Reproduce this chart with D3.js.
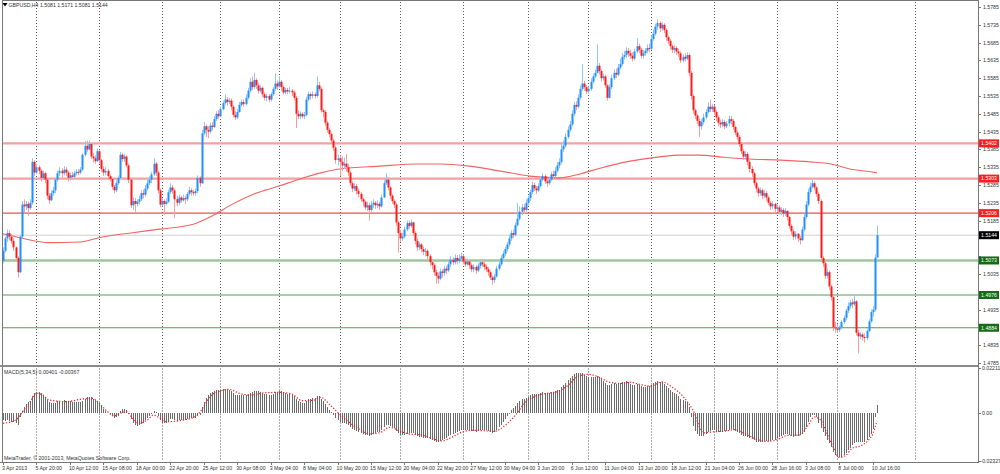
<!DOCTYPE html>
<html><head><meta charset="utf-8">
<script src="https://cdn.jsdelivr.net/npm/d3@7"></script>
<style>html,body{margin:0;padding:0;background:#fff;}svg{display:block;}</style>
</head><body>
<svg id="c" width="1000" height="474"></svg>
<script>
const title = "GBPUSD,H4  1.5081 1.5171 1.5081 1.5144";
const macdTitle = "MACD(5,34,5) 0.00401 -0.00367";
const copyright = "MetaTrader, \u00A9 2001-2013, MetaQuotes Software Corp.";
const firstOpen = 1.5072;
const closes = [
1.5100,1.5135,1.5150,1.5140,1.5128,1.5110,1.5080,1.5040,1.5140,1.5230,
1.5225,1.5232,1.5220,1.5235,1.5350,1.5320,1.5335,1.5325,1.5305,1.5318,
1.5300,1.5255,1.5242,1.5262,1.5270,1.5300,1.5318,1.5325,1.5318,1.5328,
1.5320,1.5305,1.5312,1.5308,1.5318,1.5322,1.5320,1.5328,1.5370,1.5395,
1.5385,1.5400,1.5365,1.5360,1.5352,1.5380,1.5355,1.5330,1.5320,1.5325,
1.5310,1.5302,1.5280,1.5270,1.5290,1.5305,1.5370,1.5358,1.5365,1.5340,
1.5300,1.5228,1.5240,1.5232,1.5238,1.5245,1.5262,1.5258,1.5275,1.5290,
1.5300,1.5315,1.5345,1.5320,1.5270,1.5230,1.5240,1.5232,1.5238,1.5265,
1.5278,1.5270,1.5245,1.5235,1.5250,1.5242,1.5248,1.5245,1.5260,1.5270,
1.5265,1.5262,1.5268,1.5305,1.5290,1.5430,1.5450,1.5440,1.5435,1.5452,
1.5448,1.5470,1.5485,1.5478,1.5498,1.5515,1.5525,1.5518,1.5522,1.5505,
1.5482,1.5475,1.5490,1.5510,1.5518,1.5512,1.5530,1.5550,1.5575,1.5560,
1.5580,1.5565,1.5550,1.5558,1.5540,1.5530,1.5535,1.5525,1.5540,1.5555,
1.5570,1.5562,1.5575,1.5560,1.5545,1.5552,1.5548,1.5550,1.5545,1.5530,
1.5485,1.5478,1.5485,1.5478,1.5482,1.5525,1.5540,1.5535,1.5540,1.5535,
1.5565,1.5555,1.5495,1.5490,1.5460,1.5440,1.5428,1.5410,1.5390,1.5355,
1.5360,1.5350,1.5340,1.5345,1.5335,1.5320,1.5290,1.5275,1.5282,1.5268,
1.5260,1.5245,1.5238,1.5222,1.5228,1.5215,1.5230,1.5235,1.5228,1.5232,
1.5225,1.5250,1.5290,1.5300,1.5278,1.5255,1.5240,1.5230,1.5180,1.5150,
1.5135,1.5140,1.5160,1.5178,1.5170,1.5180,1.5150,1.5128,1.5110,1.5118,
1.5105,1.5098,1.5100,1.5085,1.5068,1.5060,1.5040,1.5030,1.5022,1.5042,
1.5038,1.5050,1.5045,1.5062,1.5075,1.5068,1.5080,1.5072,1.5078,1.5085,
1.5070,1.5062,1.5070,1.5060,1.5048,1.5055,1.5045,1.5058,1.5068,1.5062,
1.5055,1.5048,1.5040,1.5025,1.5018,1.5028,1.5050,1.5062,1.5080,1.5092,
1.5105,1.5118,1.5135,1.5150,1.5145,1.5172,1.5190,1.5210,1.5222,1.5215,
1.5235,1.5248,1.5265,1.5285,1.5275,1.5270,1.5282,1.5300,1.5310,1.5295,
1.5290,1.5300,1.5315,1.5310,1.5325,1.5340,1.5350,1.5385,1.5395,1.5420,
1.5440,1.5455,1.5485,1.5510,1.5505,1.5530,1.5555,1.5570,1.5560,1.5548,
1.5555,1.5575,1.5590,1.5600,1.5620,1.5605,1.5585,1.5590,1.5565,1.5530,
1.5560,1.5585,1.5600,1.5595,1.5615,1.5625,1.5645,1.5650,1.5662,1.5655,
1.5648,1.5640,1.5660,1.5675,1.5665,1.5648,1.5655,1.5662,1.5670,1.5668,
1.5695,1.5710,1.5730,1.5740,1.5725,1.5735,1.5720,1.5700,1.5690,1.5675,
1.5665,1.5670,1.5660,1.5655,1.5635,1.5645,1.5640,1.5650,1.5600,1.5535,
1.5495,1.5480,1.5465,1.5450,1.5462,1.5475,1.5490,1.5505,1.5498,1.5505,
1.5490,1.5475,1.5460,1.5455,1.5462,1.5450,1.5458,1.5470,1.5465,1.5448,
1.5432,1.5420,1.5400,1.5380,1.5365,1.5372,1.5350,1.5330,1.5318,1.5290,
1.5275,1.5262,1.5270,1.5255,1.5262,1.5250,1.5235,1.5225,1.5232,1.5218,
1.5222,1.5210,1.5215,1.5205,1.5212,1.5195,1.5170,1.5155,1.5140,1.5148,
1.5135,1.5130,1.5160,1.5195,1.5230,1.5265,1.5280,1.5290,1.5278,1.5260,
1.5240,1.5080,1.5065,1.5030,1.5040,1.5000,1.4970,1.4885,1.4882,1.4878,
1.4885,1.4900,1.4912,1.4932,1.4945,1.4955,1.4950,1.4958,1.4870,1.4860,
1.4865,1.4858,1.4855,1.4875,1.4902,1.4928,1.4935,1.5081,1.5144];
const highs = [
1.5110,1.5140,1.5160,1.5158,1.5148,1.5135,1.5112,1.5085,1.5145,1.5240,
1.5245,1.5240,1.5238,1.5245,1.5360,1.5355,1.5345,1.5340,1.5330,1.5325,
1.5322,1.5305,1.5262,1.5270,1.5280,1.5305,1.5325,1.5335,1.5332,1.5338,
1.5335,1.5325,1.5320,1.5322,1.5325,1.5330,1.5330,1.5335,1.5375,1.5408,
1.5410,1.5410,1.5400,1.5375,1.5368,1.5388,1.5382,1.5358,1.5338,1.5335,
1.5330,1.5315,1.5305,1.5285,1.5298,1.5312,1.5378,1.5375,1.5372,1.5368,
1.5345,1.5305,1.5250,1.5248,1.5245,1.5255,1.5270,1.5272,1.5285,1.5300,
1.5310,1.5322,1.5360,1.5350,1.5325,1.5275,1.5248,1.5245,1.5248,1.5272,
1.5290,1.5285,1.5275,1.5255,1.5258,1.5255,1.5258,1.5255,1.5265,1.5280,
1.5276,1.5272,1.5275,1.5312,1.5310,1.5440,1.5462,1.5455,1.5450,1.5460,
1.5462,1.5478,1.5492,1.5495,1.5505,1.5522,1.5540,1.5532,1.5530,1.5528,
1.5510,1.5492,1.5498,1.5518,1.5525,1.5525,1.5540,1.5558,1.5585,1.5590,
1.5600,1.5585,1.5572,1.5565,1.5562,1.5545,1.5542,1.5540,1.5545,1.5560,
1.5598,1.5578,1.5590,1.5580,1.5565,1.5558,1.5558,1.5560,1.5555,1.5550,
1.5535,1.5495,1.5492,1.5490,1.5490,1.5532,1.5548,1.5545,1.5548,1.5545,
1.5590,1.5575,1.5560,1.5500,1.5495,1.5465,1.5445,1.5432,1.5415,1.5395,
1.5370,1.5368,1.5365,1.5362,1.5372,1.5345,1.5325,1.5295,1.5290,1.5288,
1.5275,1.5265,1.5250,1.5242,1.5238,1.5235,1.5240,1.5245,1.5240,1.5242,
1.5238,1.5258,1.5298,1.5318,1.5305,1.5282,1.5260,1.5245,1.5235,1.5185,
1.5158,1.5150,1.5168,1.5185,1.5185,1.5188,1.5182,1.5155,1.5135,1.5125,
1.5122,1.5112,1.5108,1.5105,1.5090,1.5075,1.5065,1.5048,1.5040,1.5050,
1.5048,1.5058,1.5058,1.5070,1.5085,1.5082,1.5090,1.5088,1.5090,1.5095,
1.5090,1.5078,1.5078,1.5075,1.5065,1.5062,1.5060,1.5065,1.5075,1.5078,
1.5068,1.5062,1.5055,1.5045,1.5030,1.5035,1.5058,1.5070,1.5088,1.5100,
1.5112,1.5125,1.5145,1.5158,1.5160,1.5180,1.5235,1.5225,1.5232,1.5232,
1.5245,1.5255,1.5272,1.5295,1.5292,1.5282,1.5290,1.5310,1.5318,1.5315,
1.5302,1.5308,1.5322,1.5325,1.5335,1.5350,1.5360,1.5400,1.5410,1.5430,
1.5450,1.5465,1.5495,1.5518,1.5520,1.5540,1.5565,1.5625,1.5578,1.5565,
1.5562,1.5585,1.5598,1.5610,1.5680,1.5628,1.5610,1.5598,1.5595,1.5568,
1.5568,1.5595,1.5610,1.5612,1.5625,1.5640,1.5655,1.5662,1.5672,1.5670,
1.5665,1.5658,1.5668,1.5698,1.5682,1.5670,1.5665,1.5670,1.5680,1.5682,
1.5705,1.5722,1.5738,1.5750,1.5745,1.5742,1.5740,1.5725,1.5705,1.5695,
1.5680,1.5678,1.5675,1.5668,1.5660,1.5652,1.5655,1.5658,1.5655,1.5605,
1.5540,1.5500,1.5485,1.5472,1.5470,1.5485,1.5498,1.5518,1.5525,1.5512,
1.5510,1.5495,1.5480,1.5468,1.5470,1.5468,1.5465,1.5480,1.5478,1.5470,
1.5452,1.5438,1.5425,1.5405,1.5385,1.5380,1.5378,1.5355,1.5338,1.5322,
1.5295,1.5280,1.5278,1.5275,1.5270,1.5268,1.5255,1.5240,1.5240,1.5235,
1.5230,1.5228,1.5222,1.5220,1.5220,1.5215,1.5198,1.5175,1.5160,1.5155,
1.5150,1.5142,1.5168,1.5205,1.5240,1.5275,1.5292,1.5302,1.5295,1.5282,
1.5265,1.5245,1.5085,1.5070,1.5050,1.5045,1.5005,1.4975,1.4900,1.4895,
1.4890,1.4905,1.4918,1.4938,1.4955,1.4962,1.4965,1.4975,1.4962,1.4878,
1.4872,1.4870,1.4868,1.4880,1.4908,1.4935,1.4945,1.5090,1.5171];
const lows = [
1.5065,1.5095,1.5125,1.5130,1.5120,1.5100,1.5070,1.5025,1.5038,1.5135,
1.5205,1.5215,1.5198,1.5215,1.5230,1.5310,1.5315,1.5315,1.5295,1.5300,
1.5290,1.5245,1.5232,1.5240,1.5255,1.5262,1.5295,1.5310,1.5305,1.5312,
1.5310,1.5295,1.5298,1.5300,1.5305,1.5312,1.5312,1.5315,1.5325,1.5365,
1.5378,1.5382,1.5358,1.5348,1.5345,1.5350,1.5345,1.5322,1.5310,1.5312,
1.5300,1.5295,1.5272,1.5262,1.5265,1.5285,1.5300,1.5350,1.5350,1.5335,
1.5290,1.5220,1.5215,1.5210,1.5225,1.5230,1.5240,1.5248,1.5252,1.5270,
1.5285,1.5290,1.5310,1.5310,1.5262,1.5222,1.5225,1.5200,1.5228,1.5235,
1.5260,1.5260,1.5192,1.5225,1.5228,1.5235,1.5238,1.5232,1.5240,1.5255,
1.5255,1.5255,1.5255,1.5262,1.5280,1.5288,1.5425,1.5420,1.5417,1.5430,
1.5438,1.5445,1.5465,1.5470,1.5475,1.5495,1.5510,1.5508,1.5512,1.5495,
1.5475,1.5468,1.5470,1.5488,1.5505,1.5505,1.5508,1.5525,1.5545,1.5552,
1.5555,1.5555,1.5542,1.5545,1.5532,1.5522,1.5520,1.5518,1.5520,1.5535,
1.5550,1.5552,1.5558,1.5550,1.5540,1.5540,1.5540,1.5542,1.5535,1.5522,
1.5445,1.5470,1.5470,1.5472,1.5470,1.5478,1.5520,1.5525,1.5528,1.5528,
1.5530,1.5548,1.5488,1.5475,1.5450,1.5432,1.5420,1.5402,1.5380,1.5345,
1.5340,1.5310,1.5325,1.5330,1.5322,1.5310,1.5282,1.5265,1.5268,1.5258,
1.5250,1.5238,1.5225,1.5215,1.5212,1.5185,1.5210,1.5220,1.5218,1.5220,
1.5215,1.5222,1.5248,1.5285,1.5270,1.5245,1.5232,1.5220,1.5170,1.5095,
1.5125,1.5128,1.5135,1.5155,1.5162,1.5165,1.5142,1.5118,1.5100,1.5102,
1.5095,1.5088,1.5085,1.5075,1.5058,1.5048,1.5030,1.5008,1.5008,1.5018,
1.5025,1.5030,1.5035,1.5040,1.5055,1.5060,1.5062,1.5062,1.5065,1.5070,
1.5062,1.5055,1.5058,1.5050,1.5040,1.5040,1.5035,1.5040,1.5050,1.5055,
1.5045,1.5040,1.5030,1.5018,1.5005,1.5010,1.5025,1.5045,1.5058,1.5075,
1.5085,1.5098,1.5112,1.5128,1.5135,1.5140,1.5168,1.5185,1.5200,1.5205,
1.5210,1.5228,1.5240,1.5260,1.5268,1.5260,1.5265,1.5278,1.5295,1.5288,
1.5280,1.5285,1.5295,1.5302,1.5305,1.5320,1.5332,1.5345,1.5378,1.5390,
1.5415,1.5435,1.5450,1.5478,1.5495,1.5500,1.5525,1.5550,1.5550,1.5540,
1.5542,1.5550,1.5570,1.5585,1.5598,1.5595,1.5575,1.5578,1.5558,1.5522,
1.5528,1.5555,1.5580,1.5585,1.5590,1.5610,1.5620,1.5638,1.5642,1.5645,
1.5640,1.5632,1.5635,1.5655,1.5655,1.5640,1.5640,1.5648,1.5655,1.5658,
1.5665,1.5690,1.5705,1.5720,1.5715,1.5718,1.5712,1.5690,1.5680,1.5665,
1.5655,1.5655,1.5650,1.5645,1.5628,1.5630,1.5632,1.5635,1.5590,1.5525,
1.5485,1.5470,1.5455,1.5420,1.5440,1.5455,1.5470,1.5485,1.5490,1.5490,
1.5482,1.5465,1.5450,1.5445,1.5448,1.5442,1.5445,1.5450,1.5455,1.5440,
1.5425,1.5410,1.5392,1.5372,1.5355,1.5355,1.5340,1.5320,1.5308,1.5282,
1.5265,1.5252,1.5255,1.5245,1.5248,1.5240,1.5228,1.5215,1.5218,1.5208,
1.5210,1.5202,1.5200,1.5195,1.5198,1.5185,1.5162,1.5145,1.5130,1.5132,
1.5125,1.5118,1.5128,1.5155,1.5190,1.5225,1.5260,1.5275,1.5270,1.5252,
1.5232,1.5070,1.5055,1.5020,1.5022,1.4990,1.4960,1.4875,1.4870,1.4870,
1.4872,1.4880,1.4895,1.4905,1.4925,1.4938,1.4940,1.4945,1.4862,1.4812,
1.4852,1.4848,1.4842,1.4850,1.4872,1.4898,1.4915,1.4930,1.5081];
const maBars = [0,8,22,37,46,62,75,91,100,110,120,132,142,152,161,180,199,209,223,238,252,266,276,286,300,314,324,333,343,357,372,386,396,405,415,418];
const maValues = [1.5148,1.5137,1.5123,1.5125,1.5137,1.5151,1.5161,1.5175,1.5198,1.5232,1.5260,1.5282,1.5302,1.5319,1.5330,1.5338,1.5344,1.5344,1.5338,1.5324,1.5310,1.5305,1.5316,1.5333,1.5352,1.5364,1.5369,1.5369,1.5364,1.5358,1.5355,1.5350,1.5344,1.5330,1.5322,1.5319];
const macdMain = [
-0.0035,-0.0038,-0.0035,-0.0037,-0.0040,-0.0042,-0.0048,-0.0055,-0.0020,0.0012,
0.0030,0.0045,0.0055,0.0062,0.0085,0.0098,0.0105,0.0103,0.0097,0.0090,
0.0078,0.0065,0.0055,0.0050,0.0050,0.0052,0.0058,0.0060,0.0062,0.0063,
0.0062,0.0060,0.0058,0.0055,0.0055,0.0055,0.0055,0.0055,0.0062,0.0072,
0.0078,0.0082,0.0078,0.0072,0.0065,0.0062,0.0050,0.0035,0.0022,0.0012,
0.0003,-0.0005,-0.0015,-0.0022,-0.0020,-0.0012,0.0012,0.0020,0.0022,0.0015,
-0.0002,-0.0030,-0.0045,-0.0055,-0.0060,-0.0058,-0.0052,-0.0045,-0.0035,-0.0025,
-0.0012,-0.0002,0.0010,0.0005,-0.0015,-0.0035,-0.0045,-0.0048,-0.0045,-0.0038,
-0.0030,-0.0030,-0.0035,-0.0038,-0.0035,-0.0033,-0.0032,-0.0032,-0.0030,-0.0025,
-0.0025,-0.0024,-0.0022,-0.0012,-0.0010,0.0030,0.0055,0.0075,0.0088,0.0098,
0.0105,0.0108,0.0112,0.0112,0.0115,0.0117,0.0120,0.0118,0.0115,0.0108,
0.0098,0.0090,0.0088,0.0088,0.0090,0.0088,0.0090,0.0092,0.0098,0.0102,
0.0108,0.0110,0.0108,0.0105,0.0100,0.0095,0.0092,0.0088,0.0090,0.0095,
0.0102,0.0105,0.0110,0.0108,0.0102,0.0098,0.0095,0.0092,0.0090,0.0085,
0.0070,0.0060,0.0055,0.0050,0.0048,0.0058,0.0068,0.0072,0.0075,0.0076,
0.0085,0.0085,0.0070,0.0060,0.0045,0.0030,0.0018,0.0005,-0.0008,-0.0025,
-0.0032,-0.0040,-0.0045,-0.0048,-0.0050,-0.0055,-0.0065,-0.0075,-0.0080,-0.0085,
-0.0090,-0.0095,-0.0100,-0.0105,-0.0108,-0.0110,-0.0105,-0.0100,-0.0095,-0.0092,
-0.0090,-0.0082,-0.0065,-0.0055,-0.0055,-0.0060,-0.0068,-0.0072,-0.0085,-0.0098,
-0.0105,-0.0108,-0.0105,-0.0100,-0.0098,-0.0095,-0.0098,-0.0105,-0.0112,-0.0115,
-0.0118,-0.0120,-0.0120,-0.0122,-0.0126,-0.0130,-0.0135,-0.0138,-0.0140,-0.0135,
-0.0130,-0.0125,-0.0120,-0.0112,-0.0105,-0.0100,-0.0095,-0.0090,-0.0085,-0.0080,
-0.0080,-0.0082,-0.0080,-0.0082,-0.0088,-0.0088,-0.0090,-0.0088,-0.0082,-0.0080,
-0.0080,-0.0082,-0.0088,-0.0092,-0.0095,-0.0090,-0.0080,-0.0068,-0.0055,-0.0042,
-0.0028,-0.0015,0.0000,0.0015,0.0025,0.0038,0.0050,0.0060,0.0068,0.0070,
0.0075,0.0080,0.0088,0.0095,0.0095,0.0092,0.0092,0.0098,0.0102,0.0100,
0.0098,0.0100,0.0105,0.0105,0.0108,0.0112,0.0115,0.0128,0.0138,0.0150,
0.0162,0.0170,0.0182,0.0192,0.0195,0.0198,0.0198,0.0195,0.0188,0.0180,
0.0175,0.0175,0.0178,0.0178,0.0180,0.0175,0.0165,0.0158,0.0150,0.0140,
0.0140,0.0145,0.0148,0.0145,0.0148,0.0150,0.0155,0.0155,0.0158,0.0152,
0.0145,0.0138,0.0140,0.0145,0.0140,0.0132,0.0130,0.0130,0.0132,0.0132,
0.0140,0.0148,0.0155,0.0160,0.0155,0.0152,0.0145,0.0135,0.0125,0.0115,
0.0105,0.0100,0.0092,0.0085,0.0072,0.0065,0.0058,0.0055,0.0030,-0.0020,
-0.0060,-0.0085,-0.0100,-0.0110,-0.0112,-0.0110,-0.0102,-0.0092,-0.0088,-0.0082,
-0.0082,-0.0085,-0.0090,-0.0092,-0.0090,-0.0088,-0.0085,-0.0080,-0.0078,-0.0080,
-0.0085,-0.0090,-0.0098,-0.0105,-0.0110,-0.0110,-0.0115,-0.0120,-0.0125,-0.0132,
-0.0138,-0.0140,-0.0138,-0.0138,-0.0135,-0.0135,-0.0135,-0.0135,-0.0130,-0.0128,
-0.0122,-0.0118,-0.0112,-0.0108,-0.0102,-0.0100,-0.0105,-0.0110,-0.0115,-0.0112,
-0.0110,-0.0105,-0.0100,-0.0090,-0.0065,-0.0040,-0.0020,-0.0010,-0.0008,-0.0020,
-0.0045,-0.0070,-0.0090,-0.0110,-0.0130,-0.0145,-0.0165,-0.0190,-0.0205,-0.0212,
-0.0215,-0.0213,-0.0205,-0.0195,-0.0180,-0.0168,-0.0155,-0.0145,-0.0140,-0.0142,
-0.0140,-0.0142,-0.0140,-0.0130,-0.0118,-0.0100,-0.0075,-0.0020,0.00401];
const sigBars = [0,6,10,13,16,19,22,30,38,43,46,50,53,56,59,62,65,69,72,75,78,86,92,96,99,104,108,113,118,125,132,138,143,148,152,156,160,165,170,175,180,185,190,195,200,205,210,215,220,225,230,235,240,245,250,255,260,265,270,275,280,285,290,295,300,305,310,315,320,325,330,335,340,345,350,355,360,365,370,375,381,385,388,391,394,397,400,403,406,411,414,416,418];
const sigValues = [-0.0049,-0.0033,0.0016,0.0057,0.0098,0.0089,0.0065,0.0057,0.0070,0.0073,0.0049,0.0008,-0.0013,0.0000,0.0008,-0.0024,-0.0049,-0.0033,-0.0008,-0.0024,-0.0041,-0.0033,-0.0016,0.0032,0.0081,0.0109,0.0117,0.0098,0.0089,0.0100,0.0102,0.0095,0.0062,0.0063,0.0078,0.0045,0.0005,-0.0040,-0.0075,-0.0100,-0.0095,-0.0068,-0.0088,-0.0102,-0.0105,-0.0122,-0.0135,-0.0115,-0.0090,-0.0083,-0.0085,-0.0088,-0.0060,-0.0010,0.0055,0.0085,0.0097,0.0105,0.0135,0.0180,0.0190,0.0177,0.0152,0.0146,0.0152,0.0140,0.0133,0.0153,0.0128,0.0085,0.0015,-0.0095,-0.0090,-0.0087,-0.0080,-0.0100,-0.0125,-0.0137,-0.0130,-0.0108,-0.0106,-0.0060,-0.0018,-0.0033,-0.0096,-0.0164,-0.0215,-0.0205,-0.0172,-0.0155,-0.0130,-0.0100,-0.00367];
const levelPrices = [1.5402,1.5303,1.5206,1.5144,1.5073,1.4976,1.4884];
const priceTicks = [1.5785,1.5735,1.5685,1.5635,1.5585,1.5535,1.5485,1.5435,1.5385,1.5335,1.5285,1.5235,1.5185,1.5135,1.5085,1.5035,1.4985,1.4935,1.4885,1.4835,1.4785];
const macdTicks = [0.02211,0.00,-0.02327];
const macdTickLabels = ["0.02211","0.00","-0.02327"];
const timeLabelBars = [0,16,32,48,64,80,96,112,128,144,160,176,192,208,224,240,256,272,288,304,320,336,352,368,384,400,416];
const timeLabels = ["3 Apr 2013","5 Apr 20:00","10 Apr 12:00","15 Apr 08:00","18 Apr 00:00","22 Apr 20:00","25 Apr 12:00","30 Apr 08:00","3 May 04:00","8 May 04:00","10 May 20:00","15 May 12:00","20 May 04:00","22 May 20:00","27 May 12:00","30 May 04:00","3 Jun 20:00","6 Jun 12:00","11 Jun 04:00","13 Jun 20:00","18 Jun 12:00","21 Jun 04:00","26 Jun 00:00","28 Jun 16:00","3 Jul 08:00","8 Jul 00:00","10 Jul 16:00"];
const gridBars = [16,46,76,104,132,161,190,220,251,280,310,340,370,399,436];

// ---------- layout / style ----------
const FONT = "'Liberation Sans', Arial, sans-serif";
const FS = 5.2;
const levelStyles = [
  {line:"#f5a0a0", w:2.2, box:"#ff1c1c", txt:"#fff"},
  {line:"#f5a0a0", w:2.2, box:"#ff1c1c", txt:"#fff"},
  {line:"#e25454", w:1.2, box:"#ff1c1c", txt:"#fff"},
  {line:"#cfcfcf", w:1.0, box:"#000000", txt:"#fff"},
  {line:"#9cc79c", w:2.4, box:"#136b13", txt:"#fff"},
  {line:"#4f9f4f", w:1.2, box:"#136b13", txt:"#fff"},
  {line:"#4f9f4f", w:1.2, box:"#136b13", txt:"#fff"}
];
const L = 2, R = 978, mainTop = 1, mainBot = 365, macdTop = 367.5, macdBot = 462;

const svg = d3.select('#c');
const x = d3.scaleLinear().domain([0, 418]).range([3, 877]);
const y = d3.scaleLinear().domain([1.4785, 1.5785]).range([363, 7]);
const ym = d3.scaleLinear().domain([-0.02327, 0.02211]).range([461, 368]);

svg.append('rect').attr('width',1000).attr('height',474).attr('fill','#fff');

// vertical dotted grid
const gridG = svg.append('g');
gridBars.forEach(b => {
  const gx = Math.round(x(b)) + 0.5;
  gridG.append('line').attr('x1',gx).attr('x2',gx).attr('y1',mainTop+1).attr('y2',mainBot-1)
    .attr('stroke','#555').attr('stroke-width',1).attr('stroke-dasharray','1,2');
  gridG.append('line').attr('x1',gx).attr('x2',gx).attr('y1',macdTop+1).attr('y2',macdBot-1)
    .attr('stroke','#555').attr('stroke-width',1).attr('stroke-dasharray','1,2');
});

// level lines
const lvG = svg.append('g');
levelPrices.forEach((p,k) => {
  const st = levelStyles[k];
  lvG.append('line').attr('x1',L).attr('x2',R).attr('y1',y(p)).attr('y2',y(p))
    .attr('stroke',st.line).attr('stroke-width',st.w);
});

// moving average
const maData = maBars.map((b,k)=>({b, v:maValues[k]}));
svg.append('path').datum(maData)
  .attr('d', d3.line().x(d=>x(d.b)).y(d=>y(d.v)).curve(d3.curveMonotoneX))
  .attr('fill','none').attr('stroke','#f06464').attr('stroke-width',1.1);

// candles
const opens = closes.map((c,i)=> i===0 ? firstOpen : closes[i-1]);
const bars = closes.map((c,i)=>({i, o:opens[i], h:highs[i], l:lows[i], c}));
const cG = svg.append('g');
cG.selectAll('line.wick').data(bars).join('line')
  .attr('x1', d=>Math.round(x(d.i))+0.5).attr('x2', d=>Math.round(x(d.i))+0.5)
  .attr('y1', d=>y(Math.max(d.h,d.o,d.c))).attr('y2', d=>y(Math.min(d.l,d.o,d.c)))
  .attr('stroke', d=> d.c>=d.o ? '#92c6f6' : '#f7a0a0').attr('stroke-width',1);
cG.selectAll('rect.body').data(bars).join('rect')
  .attr('x', d=>Math.round(x(d.i))-0.5).attr('width',2)
  .attr('y', d=>y(Math.max(d.o,d.c)))
  .attr('height', d=>Math.max(1, Math.abs(y(d.o)-y(d.c))))
  .attr('fill', d=> d.c>=d.o ? '#1e90ff' : '#ff1a1a');

// MACD histogram
const hG = svg.append('g').attr('shape-rendering','crispEdges');
hG.selectAll('rect').data(macdMain.map((v,i)=>({i,v}))).join('rect')
  .attr('x', d=>Math.round(x(d.i)))
  .attr('width',1)
  .attr('y', d=>Math.min(ym(d.v), ym(0)))
  .attr('height', d=>Math.max(0.6, Math.abs(ym(d.v)-ym(0))))
  .attr('fill','#6a6a6a');
// signal
const sigData = sigBars.map((b,k)=>({b, v:sigValues[k]}));
svg.append('path').datum(sigData)
  .attr('d', d3.line().x(d=>x(d.b)).y(d=>ym(d.v)).curve(d3.curveMonotoneX))
  .attr('fill','none').attr('stroke','#f02828').attr('stroke-width',1.2).attr('stroke-dasharray','1.3,1.7');

// frames
const fr = svg.append('g').attr('shape-rendering','crispEdges');
fr.append('line').attr('x1',L).attr('x2',L).attr('y1',0).attr('y2',macdBot).attr('stroke','#777');
fr.append('line').attr('x1',L).attr('x2',R).attr('y1',0.5).attr('y2',0.5).attr('stroke','#777');
fr.append('rect').attr('x',0).attr('y',mainBot).attr('width',R).attr('height',2).attr('fill','#8a8a8a');
fr.append('line').attr('x1',0).attr('x2',R).attr('y1',macdBot+0.5).attr('y2',macdBot+0.5).attr('stroke','#777');
fr.append('line').attr('x1',R+0.5).attr('x2',R+0.5).attr('y1',0).attr('y2',macdBot+1).attr('stroke','#777');

// price axis (labels hidden behind a level box are skipped, as in the reference)
const ax = svg.append('g').attr('font-family',FONT).attr('font-size',FS).attr('fill','#333');
priceTicks.forEach(p=>{
  ax.append('line').attr('x1',R).attr('x2',R+3).attr('y1',Math.round(y(p))+0.5).attr('y2',Math.round(y(p))+0.5).attr('stroke','#777');
  const covered = levelPrices.some(lp => Math.abs(y(lp)-y(p)) < 5);
  if (!covered) ax.append('text').attr('x',R+5).attr('y',y(p)+1.9).text(p.toFixed(4));
});
macdTicks.forEach((v,k)=>{
  ax.append('line').attr('x1',R).attr('x2',R+3).attr('y1',Math.round(ym(v))+0.5).attr('y2',Math.round(ym(v))+0.5).attr('stroke','#777');
  ax.append('text').attr('x',R+(v<0?2.5:4)).attr('y',ym(v)+1.9).text(macdTickLabels[k]);
});
// level labels
levelPrices.forEach((p,k)=>{
  const st = levelStyles[k];
  ax.append('rect').attr('x',R+1).attr('y',y(p)-4).attr('width',20).attr('height',8).attr('fill',st.box);
  ax.append('text').attr('x',R+11).attr('y',y(p)+1.9).attr('text-anchor','middle').attr('fill',st.txt).text(p.toFixed(4));
});

// time axis
timeLabelBars.forEach((b,k)=>{
  ax.append('line').attr('x1',Math.round(x(b))+0.5).attr('x2',Math.round(x(b))+0.5).attr('y1',macdBot+1).attr('y2',macdBot+3).attr('stroke','#777');
  ax.append('text').attr('x',x(b)-1).attr('y',470).text(timeLabels[k]);
});

// titles
svg.append('path').attr('d','M2.5,3 L7.5,3 L5,6.5 Z').attr('fill','#000');
svg.append('text').attr('x',8.5).attr('y',7).attr('font-family',FONT).attr('font-size',FS).attr('fill','#333').text(title);
svg.append('text').attr('x',4).attr('y',374).attr('font-family',FONT).attr('font-size',FS).attr('fill','#333').text(macdTitle);
svg.append('text').attr('x',4).attr('y',460).attr('font-family',FONT).attr('font-size',FS).attr('fill','#333').text(copyright);
</script>
</body></html>
